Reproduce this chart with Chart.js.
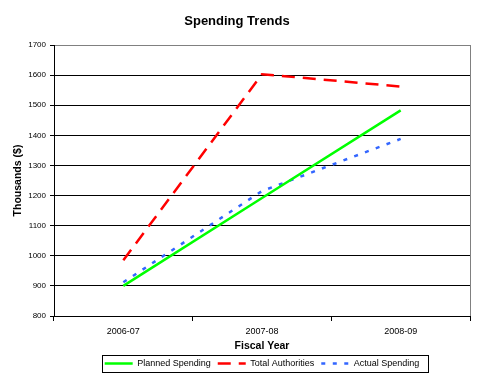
<!DOCTYPE html>
<html>
<head>
<meta charset="utf-8">
<script src="https://cdn.jsdelivr.net/npm/chart.js@4"></script>
<style>
  html, body { margin: 0; padding: 0; background: #fff; }
  #wrap { width: 491px; height: 384px; }
</style>
</head>
<body>
<div id="wrap"><canvas id="spendingChart"></canvas></div>
<script>
// Dados do gráfico
const fiscalYears = ['2006-07', '2007-08', '2008-09'];
const plannedSpending = [900, 1192, 1483];
const totalAuthorities = [985, 1603, 1562];
const actualSpending = [912, 1215, 1388];
const yTicks = [800, 900, 1000, 1100, 1200, 1300, 1400, 1500, 1600, 1700];

const fontFamily = '"Liberation Sans", Arial, sans-serif';

// Moldura cinza à direita e borda da legenda
const framePlugin = {
    id: 'frame',
    afterDraw(chart) {
        const ctx = chart.ctx;
        const area = chart.chartArea;
        ctx.save();
        ctx.strokeStyle = '#808080';
        ctx.lineWidth = 1;
        ctx.beginPath();
        ctx.moveTo(Math.round(area.right) + 0.5, area.top);
        ctx.lineTo(Math.round(area.right) + 0.5, area.bottom);
        ctx.stroke();

        const boxes = chart.legend.legendHitBoxes;
        if (boxes && boxes.length) {
            let left = Infinity, right = -Infinity, top = Infinity, bottom = -Infinity;
            boxes.forEach(b => {
                left = Math.min(left, b.left);
                right = Math.max(right, b.left + b.width);
                top = Math.min(top, b.top);
                bottom = Math.max(bottom, b.top + b.height);
            });
            ctx.strokeStyle = '#000';
            ctx.strokeRect(Math.round(left - 3) + 0.5, Math.round(top - 4) + 0.5,
                Math.round(right - left + 11), Math.round(bottom - top + 8));
        }
        ctx.restore();
    }
};

const ctx = document.getElementById('spendingChart').getContext('2d');
const spendingChart = new Chart(ctx, {
    type: 'line',
    data: {
        labels: fiscalYears,
        datasets: [{
            label: 'Planned Spending',
            data: plannedSpending,
            borderColor: '#00FF00',
            backgroundColor: '#00FF00',
            borderWidth: 2.5,
            pointRadius: 0,
            tension: 0
        }, {
            label: 'Total Authorities',
            data: totalAuthorities,
            borderColor: '#FF0000',
            backgroundColor: '#FF0000',
            borderWidth: 2.5,
            borderDash: [13, 8],
            pointRadius: 0,
            tension: 0
        }, {
            label: 'Actual Spending',
            data: actualSpending,
            borderColor: '#3366FF',
            backgroundColor: '#3366FF',
            borderWidth: 2.5,
            borderDash: [4, 7.5],
            pointRadius: 0,
            tension: 0
        }]
    },
    options: {
        responsive: true,
        maintainAspectRatio: false,
        animation: false,
        layout: {
            padding: { left: 4, right: 21, top: 0, bottom: 6 }
        },
        scales: {
            x: {
                offset: true,
                grid: {
                    offset: true,
                    drawOnChartArea: false,
                    drawTicks: true,
                    tickLength: 5,
                    color: '#000'
                },
                border: { color: '#000', width: 1 },
                ticks: {
                    color: '#000',
                    padding: 5,
                    font: { family: fontFamily, size: 9 }
                },
                title: {
                    display: true,
                    text: 'Fiscal Year',
                    color: '#000',
                    padding: { top: 0, bottom: 0 },
                    font: { family: fontFamily, size: 10.5, weight: 'bold' }
                },
                afterFit(scale) { scale.height = 36; }
            },
            y: {
                min: 800,
                max: 1700,
                afterBuildTicks(scale) {
                    scale.ticks = yTicks.map(v => ({ value: v }));
                },
                grid: {
                    color: c => (c.tick && c.tick.value === 1700 ? '#808080' : '#000'),
                    tickColor: '#000',
                    tickLength: 4,
                    lineWidth: 1
                },
                border: { color: '#000', width: 1 },
                ticks: {
                    color: '#000',
                    padding: 4,
                    font: { family: fontFamily, size: 8 },
                    callback: value => String(value)
                },
                title: {
                    display: true,
                    text: 'Thousands ($)',
                    color: '#000',
                    padding: { top: 8, bottom: 0 },
                    font: { family: fontFamily, size: 10.5, weight: 'bold' }
                },
                afterFit(scale) { scale.width = 50; }
            }
        },
        plugins: {
            title: {
                display: true,
                text: 'Spending Trends',
                color: '#000',
                padding: { top: 14, bottom: 15.4 },
                font: { family: fontFamily, size: 13, weight: 'bold' }
            },
            legend: {
                position: 'bottom',
                fullSize: false,
                labels: {
                    usePointStyle: true,
                    pointStyle: 'line',
                    pointStyleWidth: 28,
                    padding: 7,
                    color: '#000',
                    font: { family: fontFamily, size: 9 },
                    generateLabels(chart) {
                        const items = Chart.defaults.plugins.legend.labels.generateLabels(chart);
                        items.forEach(item => {
                            const ds = chart.data.datasets[item.datasetIndex];
                            item.lineDash = ds.borderDash || [];
                            item.lineWidth = ds.borderWidth;
                            item.strokeStyle = ds.borderColor;
                        });
                        return items;
                    }
                }
            },
            tooltip: { enabled: false }
        }
    },
    plugins: [framePlugin]
});
</script>
</body>
</html>
